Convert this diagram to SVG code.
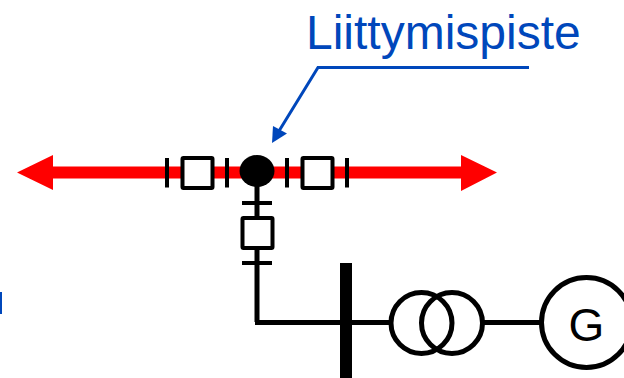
<svg xmlns="http://www.w3.org/2000/svg" width="624" height="378" viewBox="0 0 624 378">
<style>
text{font-family:"Liberation Sans",Arial,sans-serif}
.w{fill:none;stroke:#000;stroke-width:5}
.t{fill:none;stroke:#000;stroke-width:4}
.b{fill:#fff;stroke:#000;stroke-width:4;rx:1px}
.r{fill:#f00}
.c{fill:none;stroke:#000;stroke-width:5}
</style>
<rect width="624" height="378" fill="#fff"/>
<g id="connectors">
<path class="r" d="M17 172.500L53 155V166.500H461V155L497 172.500L461 191V178.500H53V190Z"/>
<path class="w" d="M257 185V322M255 322.500H392M483 322.500H541"/>
<path fill="none" stroke="#0047bb" stroke-width="3" d="M529 67.500H318L279 131"/>
<path fill="#0047bb" d="M272 143L273 126L287 133.500Z"/>
<rect x="0" y="292" width="2" height="22" fill="#0047bb"/>
</g>
<g id="bus-point"><ellipse cx="257" cy="171" rx="17.500" ry="16"/></g>
<g id="breaker-left">
<path class="t" d="M167 158V187.500M227 158V187.500"/>
<rect class="b" x="182.500" y="158" width="30" height="30"/>
</g>
<g id="breaker-right">
<path class="t" d="M287 158V187.500M347 158V187.500"/>
<rect class="b" x="302.500" y="158" width="30" height="30"/>
</g>
<g id="breaker-down">
<path class="t" d="M242 203H272M242 263H272"/>
<rect class="b" x="242.500" y="218" width="30" height="30"/>
</g>
<g id="busbar"><rect x="340" y="263" width="12" height="115"/></g>
<g id="transformer">
<circle class="c" cx="421.500" cy="323" r="30.500"/>
<circle class="c" cx="452" cy="323" r="30.500"/>
</g>
<g id="generator">
<circle cx="586.500" cy="322.500" r="45" fill="#fff" stroke="#000" stroke-width="5"/>
<text x="586.500" y="341" font-size="46" text-anchor="middle" fill="#000">G</text>
</g>
<g id="label"><text x="306" y="49" font-size="48" fill="#0047bb">Liittymispiste</text></g>
</svg>
